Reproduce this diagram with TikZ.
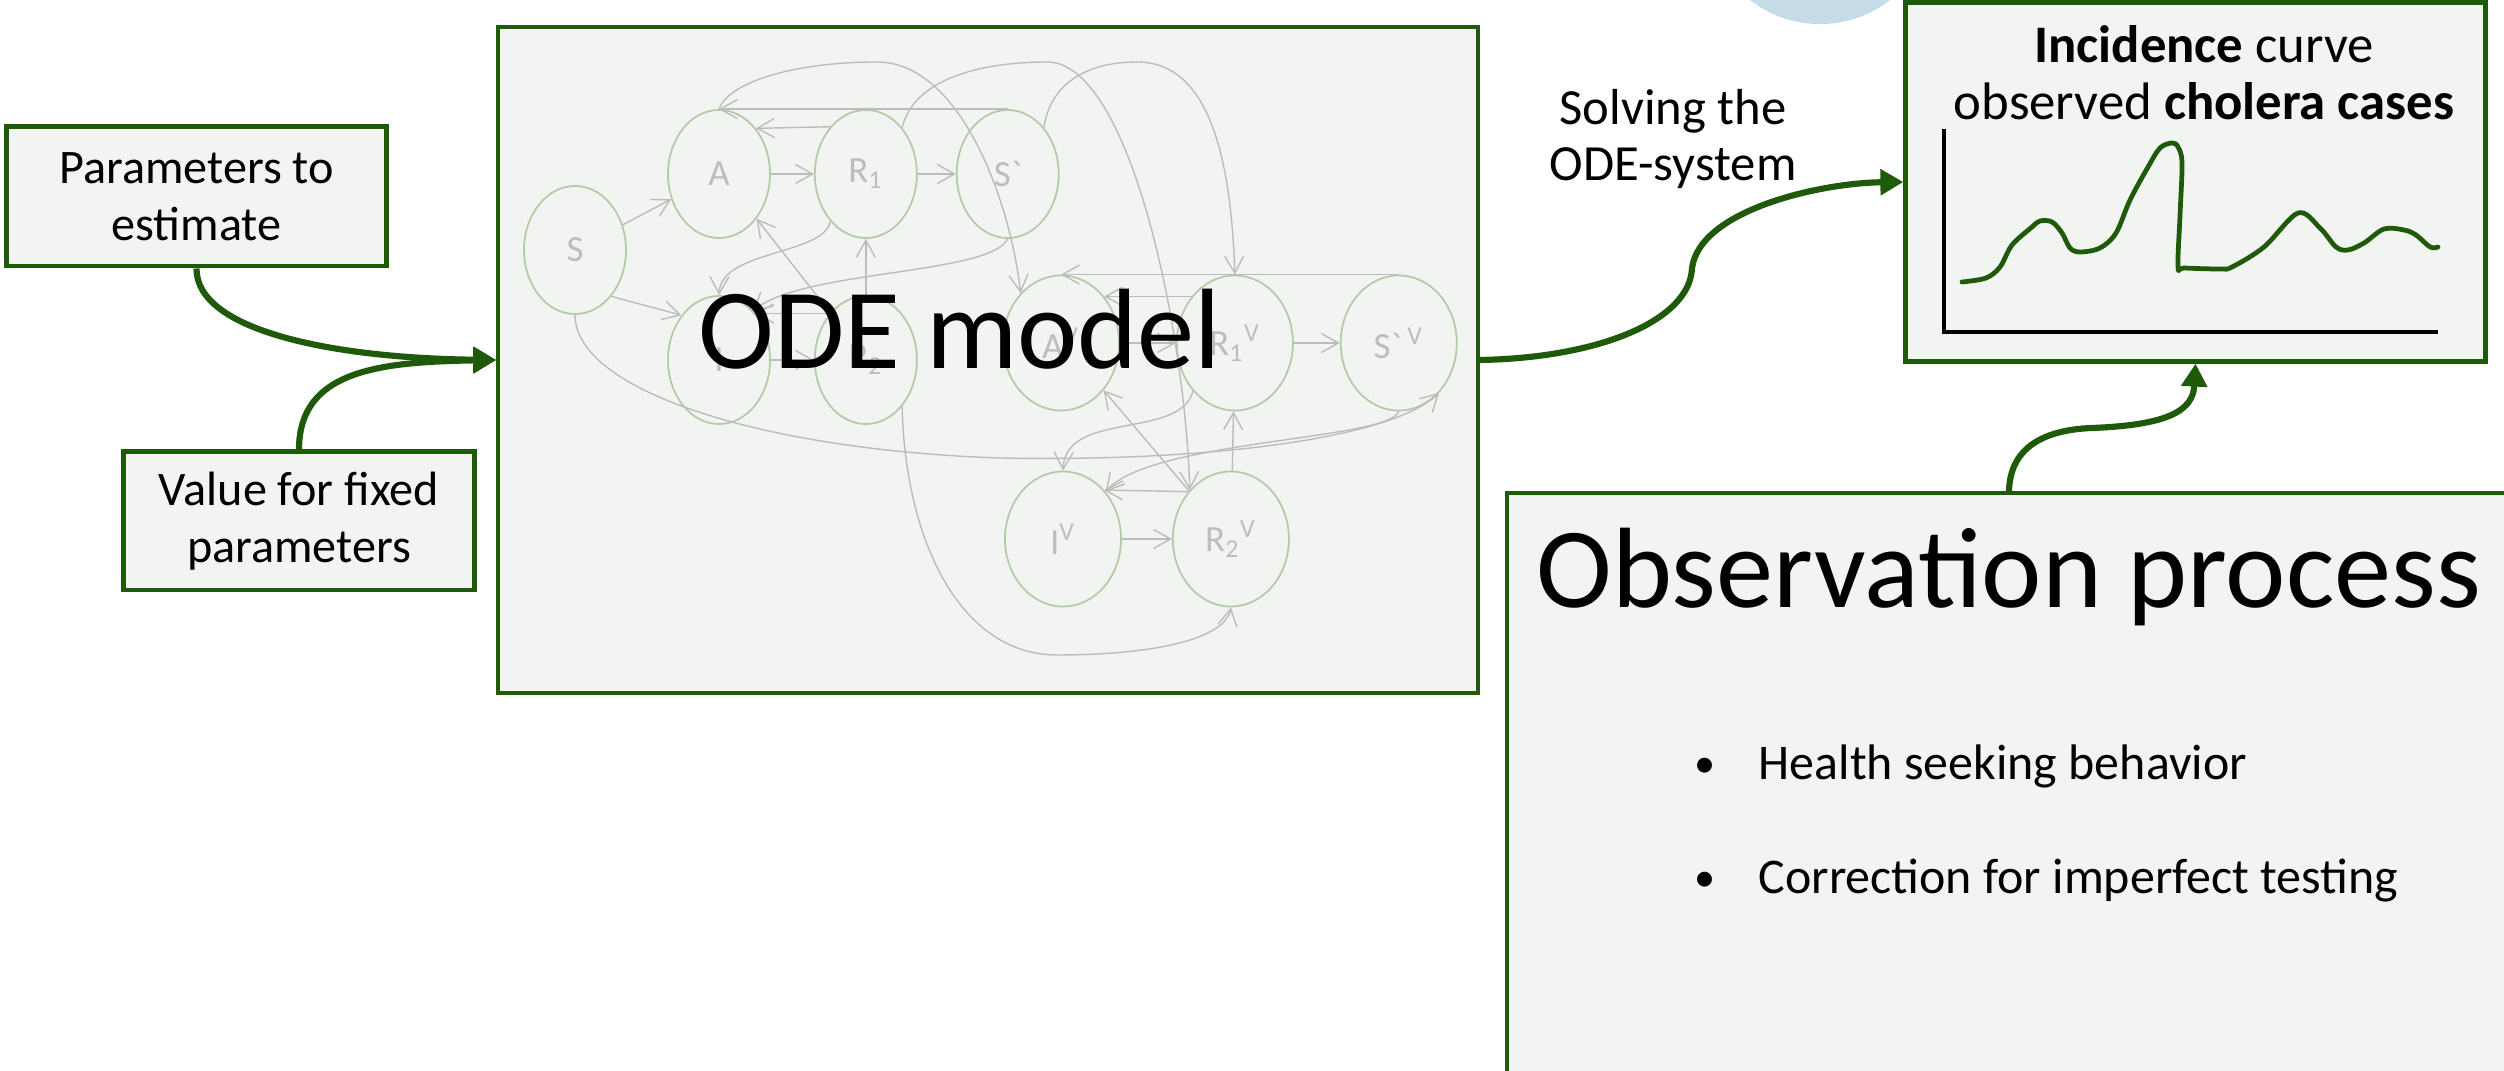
\documentclass[tikz,border=0pt]{standalone}
\usepackage{fontspec}
\setmainfont{Carlito}
\usetikzlibrary{positioning,shapes.geometric,arrows.meta}

\definecolor{boxgreen}{HTML}{1E5A0A}
\definecolor{boxfill}{HTML}{F2F4F1}
\definecolor{ovalgreen}{HTML}{B3CBA6}
\definecolor{flowgrey}{HTML}{BCBCBC}
\definecolor{labelgrey}{HTML}{BDBDBD}
\definecolor{skyblue}{HTML}{C6DCE8}

\tikzset{
  inbox/.style={draw=boxgreen, line width=1.4pt, fill=boxfill, align=center, inner sep=0pt,
    font=\fontsize{13.7}{16.2}\selectfont},
  panel/.style={draw=boxgreen, line width=1.1pt, fill=boxfill, inner sep=0pt},
  comp/.style={ellipse, draw=ovalgreen, line width=0.5pt, minimum width=1.02cm,
    minimum height=1.28cm, inner sep=0pt, text=labelgrey, font=\fontsize{10.5}{11}\selectfont},
  vcomp/.style={comp, minimum width=1.16cm, minimum height=1.35cm},
  flow/.style={draw=flowgrey, line width=0.4pt, -{Straight Barb[length=1.7mm,width=1.9mm]}},
  bigflow/.style={draw=boxgreen, line width=1.75pt, -{Triangle[length=2.3mm,width=2.5mm]}},
  txt/.style={inner sep=0pt},
  bigtext/.style={txt, font=\fontsize{32.5}{36}\selectfont},
  bullettext/.style={txt, anchor=base west, font=\fontsize{14.2}{16}\selectfont},
}

\begin{document}
\begin{tikzpicture}[x=0.01cm, y=-0.01cm]
\clip (0,0) rectangle (2504,1071);
\fill[white] (0,0) rectangle (2504,1071);
\fill[skyblue] (1820,-90) circle [radius=1.14cm];

\node[panel, minimum width=9.79cm, minimum height=6.66cm] (ode) at (988,360) {};

\node[comp] (S) at (575,250) {S};
\node[comp] (A) at (719,174) {A};
\node[comp, right=0.43cm of A] (R1) {R\textsubscript{1}};
\node[comp, right=0.38cm of R1] (Sw) {S\textasciigrave};
\node[comp] (I) at (719,360) {I};
\node[comp, right=0.43cm of I] (R2) {R\textsubscript{2}};

\node[vcomp] (AV) at (1061,343) {A\textsuperscript{V}};
\node[vcomp, right=0.56cm of AV] (R1V) {R\textsubscript{1}\textsuperscript{V}};
\node[vcomp, right=0.46cm of R1V] (SwV) {S\textasciigrave\,\textsuperscript{V}};
\node[vcomp] (IV) at (1063,539) {I\textsuperscript{V}};
\node[vcomp, right=0.50cm of IV] (R2V) {R\textsubscript{2}\textsuperscript{V}};

\draw[flow] (S) -- (A);
\draw[flow] (S.-52) -- (I.130);
\draw[flow] (A) -- (R1);
\draw[flow] (R1) -- (Sw);
\draw[flow] (R1.127) -- (A.51);
\draw[flow] (Sw.north) -- (A.north);
\draw[flow] (I) -- (R2);
\draw[flow] (R2.128) -- (I.52);
\draw[flow] (R2) -- (R1);
\draw[flow] (R2.127) -- (A.-50);
\draw[flow] (R1.-127) .. controls (825,255) and (720,250) .. (I.north);
\draw[flow] (Sw.south) .. controls (990,275) and (800,270) .. (I.55);

\draw[flow] (AV) -- (R1V);
\draw[flow] (R1V) -- (SwV);
\draw[flow] (R1V.133) -- (AV.47);
\draw[flow] (SwV.north) -- (AV.north);
\draw[flow] (IV) -- (R2V);
\draw[flow] (R2V.132) -- (IV.50);
\draw[flow] (R2V) -- (R1V);
\draw[flow] (R2V.131) -- (AV.-48);
\draw[flow] (R1V.-131) .. controls (1180,440) and (1065,410) .. (IV.north);
\draw[flow] (SwV.south) .. controls (1390,440) and (1150,440) .. (IV.48);

\draw[flow] (A.north) .. controls (730,80) and (800,62) .. (877,62)
  .. controls (960,62) and (1010,200) .. (AV.129);
\draw[flow] (R1.52) .. controls (915,75) and (990,62) .. (1047,62)
  .. controls (1130,62) and (1185,330) .. (R2V.130);
\draw[flow] (Sw.52) .. controls (1050,85) and (1085,62) .. (1137,62)
  .. controls (1210,62) and (1231,160) .. (R1V.north);
\draw[flow] (S.south) .. controls (575,390) and (760,450) .. (1000,458)
  .. controls (1200,462) and (1390,440) .. (SwV.-51);
\draw[flow] (R2.-52) .. controls (905,540) and (960,655) .. (1057,655)
  .. controls (1150,655) and (1225,640) .. (R2V.south);

\node[bigtext, anchor=base] (odetitle) at (960,369) {ODE model};

\node[inbox, minimum width=3.79cm, minimum height=1.39cm] (par) at (196.5,196.5) {Parameters to\\estimate};
\node[inbox, minimum width=3.50cm, minimum height=1.38cm] (val) at (299,521) {Value for fixed\\parameters};

\draw[bigflow] (par.south) .. controls (196,330) and (330,358) .. (ode.west);
\draw[bigflow] (val.north) .. controls (299,370) and (380,362) .. (ode.west);

\node[txt, align=center, font=\fontsize{14.4}{16.2}\selectfont] (solve) at (1673,139) {Solving the\\ODE-system};

\node[inbox, minimum width=5.79cm, minimum height=3.58cm] (inc) at (2195.5,182) {};
\node[txt, align=center, font=\fontsize{15}{16.2}\selectfont] (inctitle) at (2204,73)
  {\textbf{Incidence} curve\\observed \textbf{cholera cases}};
\draw[line width=0.95pt] (1944,129) -- (1944,332) -- (2438,332);
\draw[boxgreen, line width=1.35pt, line cap=round, line join=round]
  plot[smooth, tension=0.55] coordinates {(1962,282) (1986,278) (2000,267) (2012,245)
  (2032,227) (2040,221) (2052,222) (2062,233) (2070,248) (2080,252) (2100,248) (2116,233)
  (2130,200) (2148,167) (2160,148) (2172,143) (2178,147) (2182,163) (2180,215) (2178,267)
  (2184,268) (2220,269) (2232,267) (2264,247) (2298,213) (2320,228) (2336,247) (2348,250)
  (2364,243) (2384,229) (2404,230) (2416,235) (2430,247) (2438,247)};

\draw[bigflow] (ode.east) .. controls (1600,358) and (1690,320) .. (1692,268)
  .. controls (1700,210) and (1820,183) .. (inc.west);

\node[panel, anchor=north west, minimum width=10.5cm, minimum height=6.4cm] (obs) at (1505,491) {};
\node[bigtext, anchor=base west] (obstitle) at (1536,608) {Observation process};
\node[txt, anchor=base, font=\fontsize{12}{14}\selectfont] (dot1) at (1705,778) {•};
\node[bullettext] (item1) at (1758,780) {Health seeking behavior};
\node[txt, anchor=base, font=\fontsize{12}{14}\selectfont] (dot2) at (1705,892) {•};
\node[bullettext] (item2) at (1758,894) {Correction for imperfect testing};

\coordinate (obstop) at (2009,491);
\draw[bigflow] (obstop) .. controls (2010,450) and (2040,430) .. (2092,428)
  .. controls (2170,425) and (2193,410) .. (inc.south);
\end{tikzpicture}
\end{document}
